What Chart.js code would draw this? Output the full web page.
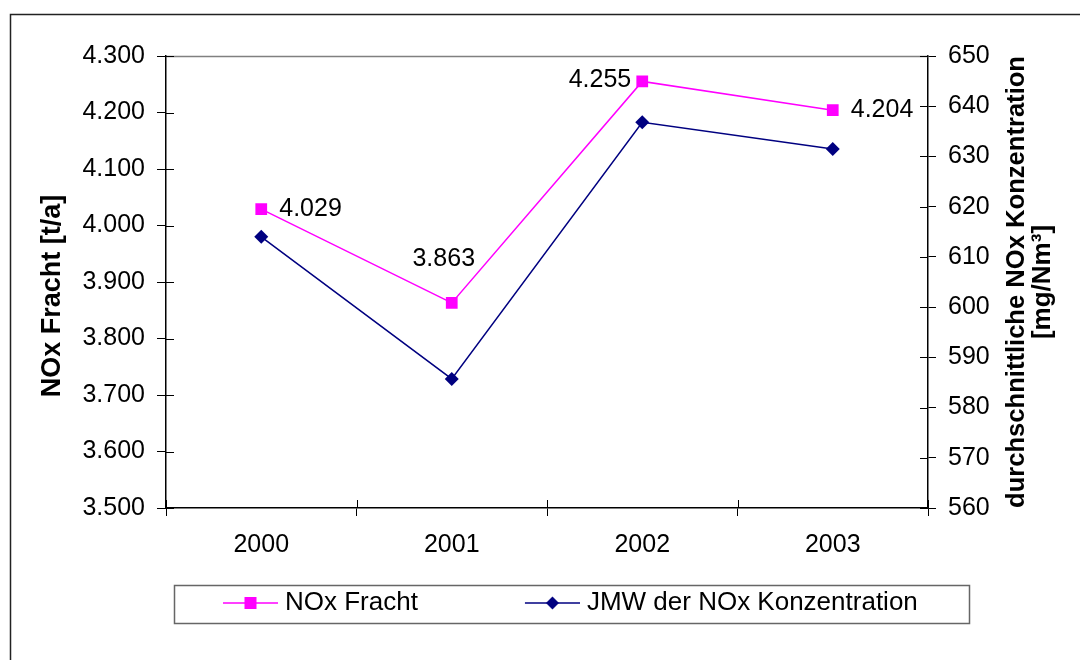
<!DOCTYPE html>
<html>
<head>
<meta charset="utf-8">
<title>NOx Fracht und JMW der NOx Konzentration</title>
<script src="https://cdn.jsdelivr.net/npm/chart.js@4.4.1/dist/chart.umd.min.js"></script>
<style>
  html, body { margin: 0; padding: 0; background: #fff; }
  #wrap { width: 1080px; height: 660px; position: relative; }
</style>
</head>
<body>
<div id="wrap"><canvas id="c" width="1080" height="660"></canvas></div>
<script>
// ---- data ----
const years = ['2000', '2001', '2002', '2003'];
const seriesNames = ['NOx Fracht', 'JMW der NOx Konzentration'];
const frachtValues = [4029, 3863, 4255, 4204];          // t/a
const konzValues = [614.0, 585.7, 636.8, 631.5];        // mg/Nm³
const frachtTickValues = [3500, 3600, 3700, 3800, 3900, 4000, 4100, 4200, 4300];
const konzTickValues = [560, 570, 580, 590, 600, 610, 620, 630, 640, 650];
const frachtLabelSide = ['right', 'above', 'left', 'right'];
const leftTitle = 'NOx Fracht [t/a]';
const rightTitle = ['durchschnittliche NOx Konzentration', '[mg/Nm³]'];

// ---- styling ----
const FONT = "'Liberation Sans', Arial, Helvetica, sans-serif";
const PINK = '#FF00FF';
const NAVY = '#000080';
const LEGEND_BLANK = 97;      // empty lead-in before each legend symbol
const LEGEND_LINE = 55;       // length of the legend sample line
const LEGEND_EXTRA = 6;       // symbol overhang on each side of the legend box
const LEGEND_BOX = LEGEND_BLANK + LEGEND_LINE - LEGEND_EXTRA;

Chart.defaults.font.family = FONT;
Chart.defaults.color = '#000';

// German thousands separator: 4300 -> "4.300"
const fmt = v => String(Math.round(v)).replace(/\B(?=(\d{3})+(?!\d))/g, '.');

function makeLegendSymbol(color, shape) {
  const c = document.createElement('canvas');
  c.width = LEGEND_BOX + 2 * LEGEND_EXTRA;
  c.height = 20;
  const g = c.getContext('2d');
  const x0 = c.width - LEGEND_LINE;
  const cy = 10;
  g.strokeStyle = color;
  g.lineWidth = 1.5;
  g.beginPath();
  g.moveTo(x0, cy);
  g.lineTo(c.width, cy);
  g.stroke();
  g.fillStyle = color;
  const mx = x0 + LEGEND_LINE / 2;
  if (shape === 'rect') {
    g.fillRect(mx - 6, cy - 6, 12, 12);
  } else {
    g.beginPath();
    g.moveTo(mx, cy - 6.5);
    g.lineTo(mx + 6.5, cy);
    g.lineTo(mx, cy + 6.5);
    g.lineTo(mx - 6.5, cy);
    g.closePath();
    g.fill();
  }
  return c;
}
const legendSymbols = [makeLegendSymbol(PINK, 'rect'), makeLegendSymbol(NAVY, 'diamond')];

const crisp = v => Math.round(v) + 0.5;

// white page with the outer frame of the chart object
const framePlugin = {
  id: 'frame',
  beforeDraw(chart) {
    const ctx = chart.ctx;
    ctx.save();
    ctx.fillStyle = '#fff';
    ctx.fillRect(0, 0, chart.width, chart.height);
    ctx.strokeStyle = '#222';
    ctx.lineWidth = 1.5;
    ctx.strokeRect(10.5, 14.5, chart.width + 40, chart.height + 40);
    ctx.restore();
  }
};

// top edge of the plot area and the inner halves of the tick marks
const plotEdgesPlugin = {
  id: 'plotEdges',
  beforeDatasetsDraw(chart) {
    const {ctx, chartArea: a, scales} = chart;
    ctx.save();
    ctx.strokeStyle = '#808080';
    ctx.lineWidth = 1.3;
    ctx.beginPath();
    ctx.moveTo(a.left, crisp(a.top));
    ctx.lineTo(a.right, crisp(a.top));
    ctx.stroke();

    ctx.strokeStyle = '#000';
    ctx.lineWidth = 1;
    ctx.beginPath();
    scales.yFracht.ticks.forEach(t => {
      const y = crisp(scales.yFracht.getPixelForValue(t.value));
      ctx.moveTo(a.left, y);
      ctx.lineTo(a.left + 8, y);
    });
    scales.yKonz.ticks.forEach(t => {
      const y = crisp(scales.yKonz.getPixelForValue(t.value));
      ctx.moveTo(a.right - 8, y);
      ctx.lineTo(a.right, y);
    });
    for (let i = 0; i <= years.length; i++) {
      const x = crisp(scales.x.getPixelForValue(i - 0.5));
      ctx.moveTo(x, a.bottom - 8);
      ctx.lineTo(x, a.bottom);
    }
    ctx.stroke();
    ctx.restore();
  }
};

// rotated axis titles, both reading bottom to top
const axisTitlesPlugin = {
  id: 'axisTitles',
  afterDraw(chart) {
    const {ctx, chartArea: a} = chart;
    const midY = (a.top + a.bottom) / 2;
    ctx.save();
    ctx.fillStyle = '#000';
    ctx.textAlign = 'center';
    ctx.textBaseline = 'middle';

    ctx.save();
    ctx.translate(53, midY + 14);
    ctx.rotate(-Math.PI / 2);
    ctx.font = 'bold 27px ' + FONT;
    ctx.fillText(leftTitle, 0, 0);
    ctx.restore();

    ctx.save();
    ctx.translate(a.right + 89, midY);
    ctx.rotate(-Math.PI / 2);
    ctx.font = 'bold 26px ' + FONT;
    rightTitle.forEach((line, i) => {
      ctx.fillText(line, 0, i * 26, a.bottom - a.top);
    });
    ctx.restore();

    ctx.restore();
  }
};

// value labels next to the NOx Fracht points
const valueLabelsPlugin = {
  id: 'valueLabels',
  afterDatasetsDraw(chart) {
    const ctx = chart.ctx;
    const meta = chart.getDatasetMeta(0);
    ctx.save();
    ctx.font = '25px ' + FONT;
    ctx.fillStyle = '#000';
    ctx.textBaseline = 'middle';
    meta.data.forEach((pt, i) => {
      const text = fmt(frachtValues[i]);
      const side = frachtLabelSide[i];
      if (side === 'right') {
        ctx.textAlign = 'left';
        ctx.fillText(text, pt.x + 18, pt.y);
      } else if (side === 'left') {
        ctx.textAlign = 'right';
        ctx.fillText(text, pt.x - 11, pt.y - 1);
      } else {
        ctx.textAlign = 'center';
        ctx.fillText(text, pt.x - 8, pt.y - 44);
      }
    });
    ctx.restore();
  }
};

// legend placement under the plot and its surrounding box
const legendBoxPlugin = {
  id: 'legendBox',
  beforeDraw(chart) {
    const lg = chart.legend;
    if (!lg || !lg.legendHitBoxes || !lg.legendHitBoxes.length) return;
    const want = chart.chartArea.left + 57 - LEGEND_BLANK;
    const dx = want - lg.legendHitBoxes[0].left;
    if (Math.abs(dx) > 0.01) {
      lg.left += dx;
      lg.right += dx;
      lg.adjustHitBoxes();
    }
  },
  afterDraw(chart) {
    const lg = chart.legend;
    if (!lg || !lg.legendHitBoxes || !lg.legendHitBoxes.length) return;
    const hb = lg.legendHitBoxes;
    const last = hb[hb.length - 1];
    const left = hb[0].left + LEGEND_BLANK - 49;
    const right = last.left + last.width + 51;
    const top = lg.top + 5;
    const bottom = lg.top + 43;
    const ctx = chart.ctx;
    ctx.save();
    ctx.strokeStyle = '#666';
    ctx.lineWidth = 1.5;
    ctx.strokeRect(crisp(left), crisp(top), Math.round(right - left), Math.round(bottom - top));
    ctx.restore();
  }
};

const tickFont = {size: 25, family: FONT};

new Chart(document.getElementById('c'), {
  type: 'line',
  data: {
    labels: years,
    datasets: [
      {
        label: seriesNames[0],
        data: frachtValues,
        yAxisID: 'yFracht',
        borderColor: PINK,
        backgroundColor: PINK,
        borderWidth: 1.5,
        pointStyle: 'rect',
        pointRadius: 8.3,
        pointBorderWidth: 0,
        tension: 0,
        fill: false
      },
      {
        label: seriesNames[1],
        data: konzValues,
        yAxisID: 'yKonz',
        borderColor: NAVY,
        backgroundColor: NAVY,
        borderWidth: 1.5,
        pointStyle: 'rectRot',
        pointRadius: 7,
        pointBorderWidth: 0,
        tension: 0,
        fill: false
      }
    ]
  },
  options: {
    responsive: false,
    animation: false,
    events: [],
    layout: {padding: {top: 56, bottom: 34, left: 0, right: 0}},
    scales: {
      x: {
        offset: true,
        grid: {offset: true, drawOnChartArea: false, tickLength: 8, color: '#000', lineWidth: 1},
        border: {color: '#000', width: 1.5},
        ticks: {font: tickFont, padding: 14, color: '#000', maxRotation: 0},
        afterFit: s => { s.height = 72; }
      },
      yFracht: {
        position: 'left',
        min: frachtTickValues[0],
        max: frachtTickValues[frachtTickValues.length - 1],
        afterBuildTicks: s => { s.ticks = frachtTickValues.map(v => ({value: v})); },
        grid: {drawOnChartArea: false, tickLength: 9, color: '#000', lineWidth: 1},
        border: {color: '#000', width: 1.5},
        ticks: {font: tickFont, padding: 12, color: '#000', callback: v => fmt(v)},
        afterFit: s => { s.width = 166; }
      },
      yKonz: {
        position: 'right',
        min: konzTickValues[0],
        max: konzTickValues[konzTickValues.length - 1],
        afterBuildTicks: s => { s.ticks = konzTickValues.map(v => ({value: v})); },
        grid: {drawOnChartArea: false, tickLength: 8, color: '#000', lineWidth: 1},
        border: {color: '#000', width: 1.5},
        ticks: {font: tickFont, padding: 12, color: '#000', callback: v => String(v)},
        afterFit: s => { s.width = 152; }
      }
    },
    plugins: {
      tooltip: {enabled: false},
      legend: {
        position: 'bottom',
        align: 'center',
        labels: {
          usePointStyle: true,
          pointStyleWidth: LEGEND_BOX,
          padding: 10,
          color: '#000',
          font: {size: 26, family: FONT},
          generateLabels: chart => chart.data.datasets.map((ds, i) => ({
            text: ds.label,
            pointStyle: legendSymbols[i],
            datasetIndex: i,
            hidden: false,
            lineWidth: 0,
            fontColor: '#000'
          }))
        }
      }
    }
  },
  plugins: [framePlugin, plotEdgesPlugin, valueLabelsPlugin, axisTitlesPlugin, legendBoxPlugin]
});
</script>
</body>
</html>
